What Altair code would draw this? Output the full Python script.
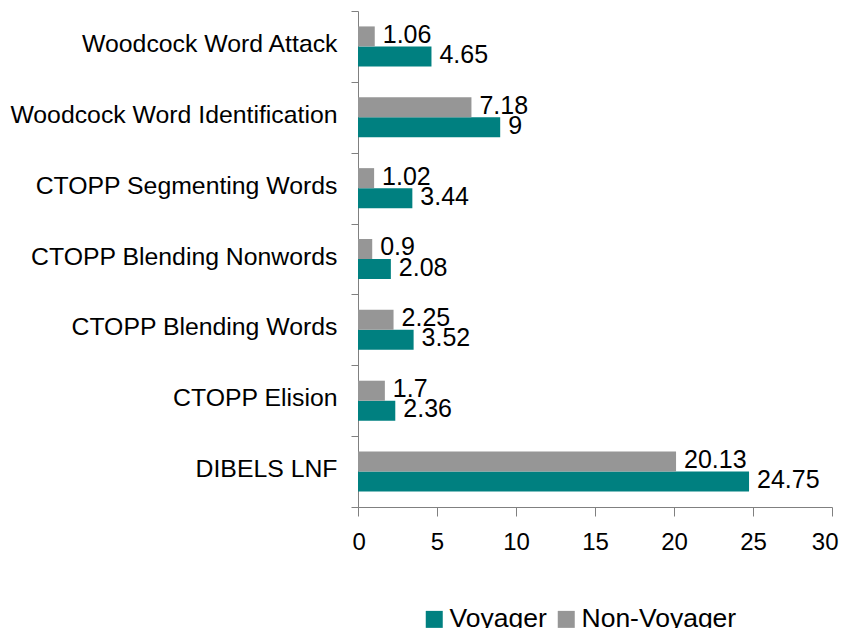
import altair as alt
import pandas as pd

categories = [
    "Woodcock Word Attack",
    "Woodcock Word Identification",
    "CTOPP Segmenting Words",
    "CTOPP Blending Nonwords",
    "CTOPP Blending Words",
    "CTOPP Elision",
    "DIBELS LNF",
]
voyager = [4.65, 9, 3.44, 2.08, 3.52, 2.36, 24.75]
non_voyager = [1.06, 7.18, 1.02, 0.9, 2.25, 1.7, 20.13]
groups = ["Voyager", "Non-Voyager"]
group_colors = ["#008080", "#969696"]
x_ticks = [0, 5, 10, 15, 20, 25, 30]

rows = []
for c, v, n in zip(categories, voyager, non_voyager):
    rows.append({"category": c, "group": "Voyager", "value": v, "label": f"{v:g}"})
    rows.append({"category": c, "group": "Non-Voyager", "value": n, "label": f"{n:g}"})
df = pd.DataFrame(rows)

FONT = "Liberation Sans"
AXIS_COLOR = "#808080"

y_enc = alt.Y(
    "category:N",
    sort=categories,
    scale=alt.Scale(paddingInner=0, paddingOuter=0),
    axis=alt.Axis(
        title=None,
        tickBand="extent",
        tickSize=7,
        tickColor=AXIS_COLOR,
        domainColor=AXIS_COLOR,
        labelFontSize=24.8,
        labelFont=FONT,
        labelColor="#000000",
        labelPadding=14,
        labelOffset=-2,
        labelLimit=400,
        grid=False,
    ),
)
yoff_enc = alt.YOffset(
    "group:N",
    sort=["Non-Voyager", "Voyager"],
    scale=alt.Scale(paddingInner=0, paddingOuter=0.77),
)
x_enc = alt.X(
    "value:Q",
    scale=alt.Scale(domain=[0, 30], nice=False),
    axis=alt.Axis(
        title=None,
        values=x_ticks,
        tickSize=9,
        tickColor=AXIS_COLOR,
        domainColor=AXIS_COLOR,
        labelFontSize=24,
        labelFont=FONT,
        labelColor="#000000",
        labelPadding=14,
        labelFlush=True,
        labelFlushOffset=6,
        grid=False,
    ),
)

base = alt.Chart(df)

bars = base.mark_bar(size=20).encode(
    x=x_enc,
    y=y_enc,
    yOffset=yoff_enc,
    color=alt.Color(
        "group:N",
        scale=alt.Scale(domain=groups, range=group_colors),
        legend=alt.Legend(
            title=None,
            orient="none",
            legendX=63,
            legendY=595,
            direction="horizontal",
            symbolType="square",
            symbolSize=289,
            symbolStrokeWidth=0,
            symbolOpacity=1,
            labelFontSize=26.5,
            labelFont=FONT,
            labelColor="#000000",
            labelOffset=2,
            columnPadding=6,
            padding=0,
        ),
    ),
)

labels = base.mark_text(
    align="left", baseline="middle", dx=8, dy=-1.5, fontSize=25, font=FONT, color="#000000"
).encode(
    x="value:Q",
    y=alt.Y("category:N", sort=categories),
    yOffset=alt.YOffset("group:N", sort=["Non-Voyager", "Voyager"]),
    text="label:N",
)

chart = (
    alt.layer(bars, labels)
    .properties(
        width=474,
        height=496,
        autosize=alt.AutoSizeParams(type="none"),
        padding={"left": 350, "top": 3, "right": 7, "bottom": 121},
    )
    .configure_view(stroke=None)
)

chart.save("out.html", embed_options={"renderer": "svg", "actions": False})
